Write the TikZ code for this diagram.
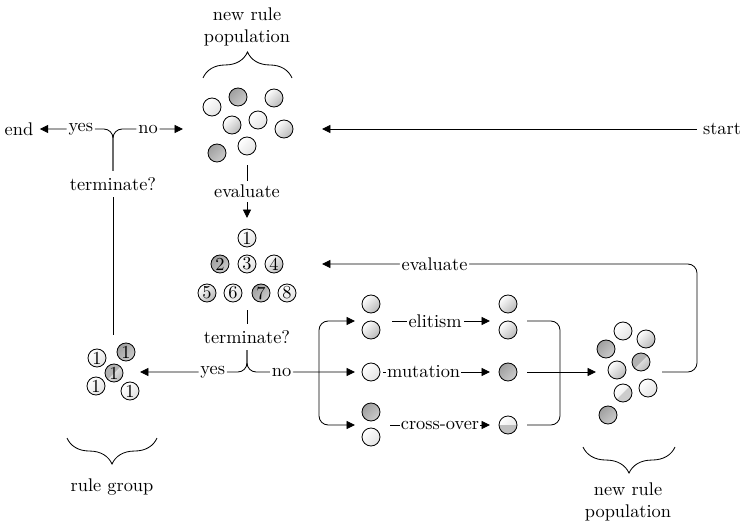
\documentclass[tikz,border=0pt]{standalone}
\usetikzlibrary{arrows.meta,decorations.pathreplacing}
\begin{document}
\begin{tikzpicture}[x=0.545pt,y=-0.545pt,
  line width=0.45pt,
  arr/.style={-{Triangle[length=4.6pt,width=4.4pt]}},
  lbl/.style={fill=white,inner sep=1pt},
  ball/.style={circle,draw,line width=0.45pt,minimum size=9.8pt,inner sep=0pt,font=\normalsize},
  bw/.style={ball,top color=white,bottom color=gray!22,shading angle=45},
  bl/.style={ball,top color=white,bottom color=gray!55,shading angle=45},
  bd/.style={ball,top color=gray!75,bottom color=gray!40,shading angle=45},
  ulsplit/.style={bl,path picture={\fill[gray!60] (path picture bounding box.south west) -- (path picture bounding box.north east) -- (path picture bounding box.north west) -- cycle;}},
  lrsplit/.style={bw,path picture={\fill[gray!40] (path picture bounding box.south west) -- (path picture bounding box.north east) -- (path picture bounding box.south east) -- cycle;}},
  hsplit/.style={bw,path picture={\fill[gray!50] (path picture bounding box.west) rectangle (path picture bounding box.south east);}},
  brc/.style={decorate,decoration={brace,amplitude=14.2pt}},
  txt/.style={align=center,inner sep=1pt}
]
\useasboundingbox (0,0) rectangle (740,527);

% top population
\node[txt] (toplbl) at (247,27) {new rule\\population};
\coordinate (tbl) at (203,78);
\coordinate (tbr) at (292,78);
\draw[brc] (tbl) -- (tbr);
\node[bw] (p1) at (212,107) {};
\node[bd] (p2) at (238,97) {};
\node[bl] (p3) at (274,98) {};
\node[bl] (p4) at (232,125) {};
\node[bw] (p5) at (258,120) {};
\node[bl] (p6) at (284,129) {};
\node[bd] (p7) at (217,153) {};
\node[bw] (p8) at (247,146) {};

% top row connectors
\node (start) at (722,129) {start};
\node (end) at (19,129) {end};
\coordinate (popE) at (322,129);
\coordinate (popW) at (183,129);
\draw[arr] (start.west) -- (popE);
\node (t1) at (113,184) {terminate?};
\draw[arr,rounded corners=5] (t1.north) |- node[lbl,pos=0.72]{yes} (end.east);
\draw[arr,rounded corners=5] (t1.north) |- node[lbl,pos=0.75]{no} (popW);

% evaluate
\coordinate (evtop) at (247,165);
\coordinate (evtip) at (247,218);
\draw[arr] (evtop) -- node[lbl,inner sep=2pt]{evaluate} (evtip);

% numbered
\node[bw] (n1) at (247,238) {1};
\node[bd] (n2) at (220,264) {2};
\node[bw] (n3) at (247,264) {3};
\node[bl] (n4) at (274,264) {4};
\node[bl] (n5) at (207,293) {5};
\node[bw] (n6) at (233,293) {6};
\node[bd] (n7) at (261,293) {7};
\node[bw] (n8) at (287,293) {8};

% second terminate
\coordinate (t2top) at (247,310);
\node (t2) at (247,337) {terminate?};
\draw (t2top) -- (t2.north);
\coordinate (rgtip) at (140,372);
\coordinate (midtip) at (355,372);
\draw[arr,rounded corners=5] (t2.south) |- node[lbl,pos=0.66]{yes} (rgtip);
\draw[arr,rounded corners=5] (t2.south) |- node[lbl,pos=0.66]{no} (midtip);

% rule group
\node[bw] (g1) at (97,358) {1};
\node[bd] (g2) at (126,352) {1};
\node[ulsplit] (g3) at (114,373) {1};
\node[bw] (g4) at (96,386) {1};
\node[bw] (g5) at (130,391) {1};
\coordinate (rgtop) at (113,335);
\draw (t1.south) -- (rgtop);
\coordinate (gbl) at (157,438);
\coordinate (gbr) at (67,438);
\draw[brc] (gbl) -- (gbr);
\node[txt] (rglbl) at (112,487) {rule group};

% split
\coordinate (S) at (319,372);
\coordinate (eltip) at (355,321);
\coordinate (cotip) at (355,425);
\draw[arr,rounded corners=5] (S) |- (eltip);
\draw[arr,rounded corners=5] (S) |- (cotip);

% left balls
\node[bl] (e1) at (371,304) {};
\node[bl] (e2) at (371,330) {};
\node[bw] (m1) at (371,372) {};
\node[bd] (c1) at (371,412) {};
\node[bw] (c2) at (371,437) {};
% right balls
\node[bl] (E1) at (508,304) {};
\node[bl] (E2) at (508,330) {};
\node[bd] (M1) at (508,372) {};
\node[hsplit] (C1) at (508,425) {};

% operator arrows
\coordinate (elS) at (392,321);
\coordinate (elT) at (490,321);
\coordinate (muS) at (383,372);
\coordinate (muT) at (490,372);
\coordinate (coS) at (390,425);
\coordinate (coT) at (490,425);
\draw[arr] (elS) -- node[lbl,pos=0.44]{elitism} (elT);
\draw[arr] (muS) -- node[lbl,pos=0.38,inner sep=0.5pt]{mutation} (muT);
\draw[arr] (coS) -- node[lbl,pos=0.5,inner sep=0.5pt]{cross-over} (coT);

% merge
\coordinate (rE) at (527,321);
\coordinate (rM) at (527,372);
\coordinate (rC) at (527,425);
\coordinate (mg) at (560,372);
\coordinate (nptip) at (596,372);
\draw[rounded corners=5] (rE) -| (mg);
\draw[rounded corners=5] (rC) -| (mg);
\draw[arr] (rM) -- (nptip);

% new rule population (bottom right)
\node[bw] (q1) at (623,331) {};
\node[bl] (q2) at (646,339) {};
\node[bd] (q3) at (606,349) {};
\node[ulsplit] (q4) at (641,362) {};
\node[bl] (q5) at (617,370) {};
\node[lrsplit] (q6) at (623,393) {};
\node[bw] (q7) at (648,388) {};
\node[bd] (q8) at (608,415) {};
\coordinate (bbl) at (675,447);
\coordinate (bbr) at (583,447);
\draw[brc] (bbl) -- (bbr);
\node[txt] (nplbl) at (628,502) {new rule\\population};

% loop back
\coordinate (lpS) at (662,372);
\coordinate (lpC) at (697,264);
\coordinate (numE) at (322,264);
\draw[arr,rounded corners=5] (lpS) -| (lpC) -- node[lbl,pos=0.7]{evaluate} (numE);
\end{tikzpicture}
\end{document}
